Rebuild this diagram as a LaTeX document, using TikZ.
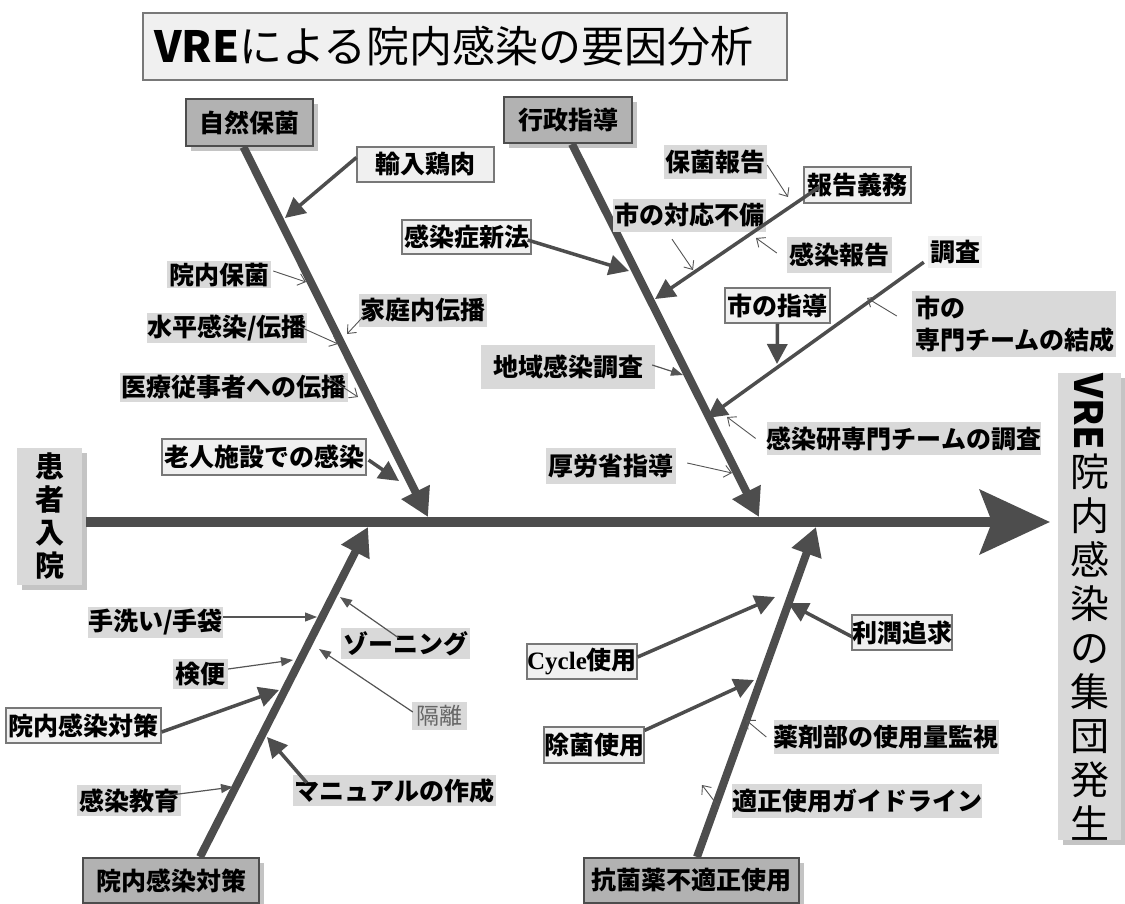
\documentclass[tikz,border=0pt]{standalone}
\usepackage{fontspec}
\setmainfont{Noto Sans CJK JP}
\newfontfamily\cyclefont{Liberation Serif}
\usetikzlibrary{arrows.meta,calc,shadows}
\definecolor{linecol}{RGB}{77,77,77}
\definecolor{thincol}{RGB}{85,85,85}
\definecolor{glabfill}{RGB}{217,217,217}
\definecolor{blabfill}{RGB}{240,240,240}
\definecolor{blabdraw}{RGB}{120,120,120}
\definecolor{catfill}{RGB}{178,178,178}
\definecolor{shadowcol}{RGB}{196,196,196}
\newcommand\lbfont{\fontsize{25}{29}\selectfont\bfseries}
\begin{document}
\begin{tikzpicture}[x=1pt,y=-1pt,
  glab/.style={fill=glabfill,inner sep=0pt,font=\lbfont},
  blab/.style={fill=blabfill,draw=blabdraw,line width=1.2pt,inner sep=0pt,font=\lbfont},
  catbox/.style={fill=catfill,draw=linecol,line width=2pt,inner sep=0pt,font=\lbfont,
    drop shadow={shadow xshift=5pt,shadow yshift=-5pt,fill=shadowcol,opacity=1}},
  endbox/.style={fill=glabfill,inner sep=0pt,align=center,
    drop shadow={shadow xshift=5pt,shadow yshift=-5pt,fill=shadowcol,opacity=1}},
  bone/.style={draw=linecol,line width=8pt,-{Triangle[length=28pt,width=30pt]}},
  spine/.style={draw=linecol,line width=10pt,-{Stealth[length=70pt,width=64pt,inset=12pt]}},
  mid/.style={draw=linecol,line width=3.5pt,-{Triangle[length=20pt,width=20pt]}},
  thinf/.style={draw=thincol,line width=1.2pt,-{Triangle[length=12pt,width=9pt]}},
  thino/.style={draw=thincol,line width=0.9pt,-{Straight Barb[length=7pt,width=12pt]}}
]
\useasboundingbox (0,0) rectangle (1125,904);

% title
\node[fill=blabfill,draw=blabdraw,line width=1.5pt,minimum width=644pt,minimum height=67pt,
  inner xsep=11pt,inner ysep=0pt,text width=622pt,align=left,font=\fontsize{43}{50}\selectfont]
  (title) at (465,46.5) {{\bfseries VRE}による院内感染の要因分析};

% head and tail boxes
\node[endbox,minimum width=65pt,minimum height=137pt,font=\fontsize{29}{33}\selectfont\bfseries]
  (kanja) at (49.5,516.5) {患\\者\\入\\院};
\node[endbox,minimum width=63pt,minimum height=463pt,font=\fontsize{39}{44}\selectfont]
  (goal) at (1089.5,606.5) {\rotatebox{-90}{\bfseries VRE}\\[2pt]院\\内\\感\\染\\の\\集\\団\\発\\生};

% category boxes
\node[catbox,minimum width=127pt,minimum height=47pt] (cat1) at (249.5,122.5) {自然保菌};
\node[catbox,minimum width=128pt,minimum height=46pt] (cat2) at (568,120) {行政指導};
\node[catbox,minimum width=176pt,minimum height=45pt] (cat3) at (171,880.5) {院内感染対策};
\node[catbox,minimum width=215pt,minimum height=45pt] (cat4) at (691.5,880.5) {抗菌薬不適正使用};

% spine and bones
\coordinate (spineend) at (1050,522);
\coordinate (t1) at (428,517);
\coordinate (t2) at (759,517);
\coordinate (t3) at (368,527);
\coordinate (t4) at (816,527);
\draw[spine] ($(kanja.east)+(4,5.5)$) -- (spineend);
\draw[bone] ($(cat1.south)+(-6,0)$) -- (t1);
\draw[bone] ($(cat2.south)+(4,0)$) -- (t2);
\draw[bone] ($(cat3.north)+(29,0)$) -- (t3);
\draw[bone] ($(cat4.north)+(5.5,0)$) -- (t4);

% --- 自然保菌 branch
\node[blab,minimum width=137pt,minimum height=35pt] (yunyu) at (425.5,164.5) {輸入鶏肉};
\node[glab,minimum width=104pt,minimum height=27pt] (innai) at (219,275) {院内保菌};
\node[glab,minimum width=128pt,minimum height=33pt] (katei) at (423,310.5) {家庭内伝播};
\node[glab,minimum width=160pt,minimum height=30pt] (suihei) at (227,328) {水平感染/伝播};
\node[glab,minimum width=228pt,minimum height=29pt] (iryo) at (234,387.5) {医療従事者への伝播};
\node[blab,minimum width=204pt,minimum height=36pt] (rojin) at (264,457) {老人施設での感染};
\draw[mid] ($(yunyu.west)+(0,-7)$) -- (285,218);
\draw[thino] ($(innai.east)+(2,-4)$) -- (306,282);
\draw[thino] ($(katei.west)+(4,6.5)$) -- (347,334);
\draw[thino] ($(suihei.east)+(-7,-1)$) -- (338,344);
\draw[thino] ($(iryo.north east)+(-21,4)$) -- (358,397);
\draw[mid] ($(rojin.east)+(2,3)$) -- (399,481);

% --- 行政指導 branch
\node[blab,minimum width=129pt,minimum height=34pt] (shinpo) at (466.5,237) {感染症新法};
\node[glab,minimum width=103pt,minimum height=34pt] (hokin) at (715.5,162) {保菌報告};
\node[blab,minimum width=107pt,minimum height=36pt] (gimu) at (857.5,185) {報告義務};
\node[glab,minimum width=153pt,minimum height=33pt] (taio) at (689.5,215.5) {市の対応不備};
\node[glab,minimum width=105pt,minimum height=36pt] (kanpo) at (839.5,255) {感染報告};
\node[blab,minimum width=105pt,minimum height=35pt] (shido) at (777.5,305.5) {市の指導};
\node[fill=blabfill,inner sep=0pt,font=\lbfont,minimum width=54pt,minimum height=32pt] (chosa) at (955,252) {調査};
\node[glab,minimum width=204pt,minimum height=66pt,text width=198pt,align=left,
  font=\fontsize{25}{32}\selectfont\bfseries] (senmon) at (1014,324) {市の\\専門チームの結成};
\node[glab,minimum width=174pt,minimum height=44pt] (chiiki) at (568,367) {地域感染調査};
\node[glab,minimum width=272pt,minimum height=33pt] (kenkyu) at (904,438.5) {感染研専門チームの調査};
\node[glab,minimum width=130pt,minimum height=36pt] (koro) at (611,466) {厚労省指導};
\draw[mid] ($(shinpo.east)+(-4,3)$) -- (629,271);
\draw[thino] ($(hokin.east)+(0,3)$) -- (788,197);
\draw[mid] ($(gimu.west)+(16,2)$) -- (655,299);
\draw[thino] ($(taio.south)+(-17.5,7)$) -- (693,270);
\draw[thino] ($(kanpo.west)+(-10,-2)$) -- (756,238);
\draw[mid] (shido.south) -- (777,364);
\draw[mid] ($(chosa.south west)+(-4,-6)$) -- (707,418);
\draw[thino] ($(senmon.west)+(-15,-8)$) -- (867,298);
\draw[thinf] ($(chiiki.east)+(-3,-2)$) -- (683,375);
\draw[thino] ($(kenkyu.west)+(-11,0)$) -- (727,417);
\draw[thino] ($(koro.east)+(11,-3)$) -- (732,473);

% --- 院内感染対策 branch
\node[glab,minimum width=135pt,minimum height=31pt] (tearai) at (155.5,622.5) {手洗い/手袋};
\node[glab,minimum width=129pt,minimum height=31pt] (zoning) at (405.5,643.5) {ゾーニング};
\node[glab,minimum width=55pt,minimum height=30pt] (kenben) at (200.5,674) {検便};
\node[glab,minimum width=55pt,minimum height=28pt,font=\fontsize{23}{26}\selectfont,text=black!60] (kakuri) at (439.5,716) {隔離};
\node[blab,minimum width=155pt,minimum height=35pt] (taisaku) at (83.5,725.5) {院内感染対策};
\node[glab,minimum width=203pt,minimum height=31pt] (manual) at (394.5,790.5) {マニュアルの作成};
\node[glab,minimum width=104pt,minimum height=31pt] (kyoiku) at (129,800.5) {感染教育};
\draw[thinf] ($(tearai.east)+(0,-5.5)$) -- (317,617);
\draw[thinf] ($(zoning.north)+(-7,10)$) -- (340,597);
\draw[thinf] ($(kenben.east)+(0,-5)$) -- (293,660);
\draw[thinf] ($(kakuri.west)+(1,-4)$) -- (319,649);
\draw[mid] ($(taisaku.east)+(0,6.5)$) -- (279,690);
\draw[mid] ($(manual.north west)+(14,8)$) -- (267,737);
\draw[thinf] ($(kyoiku.east)+(-18,-4.5)$) -- (233,787);

% --- 抗菌薬不適正使用 branch
\node[blab,minimum width=110pt,minimum height=35pt] (cycle) at (582,661.5) {{\cyclefont Cycle}使用};
\node[blab,minimum width=100pt,minimum height=35pt] (rijun) at (902,632.5) {利潤追求};
\node[blab,minimum width=100pt,minimum height=36pt] (jokin) at (594,745) {除菌使用};
\node[glab,minimum width=218pt,minimum height=34pt] (yakuzai) at (886,737) {薬剤部の使用量監視};
\node[glab,minimum width=240pt,minimum height=34pt] (tekisei) at (857,801) {適正使用ガイドライン};
\draw[mid] ($(cycle.east)+(0,-4.5)$) -- (775,597);
\draw[mid] ($(rijun.west)+(1,4.5)$) -- (788,603);
\draw[mid] ($(jokin.north east)+(0,4)$) -- (754,680);
\draw[thino] ($(yakuzai.west)+(-7,0)$) -- (746,720);
\draw[thino] ($(tekisei.west)+(-13,6)$) -- (702,785);
\end{tikzpicture}
\end{document}
